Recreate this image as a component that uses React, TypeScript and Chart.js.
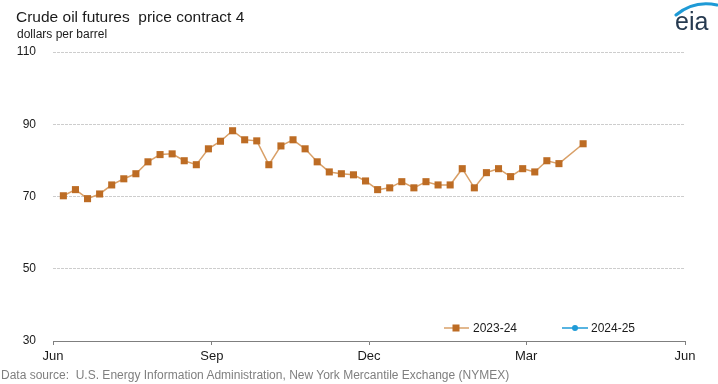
import React, { useEffect, useRef } from "react";
import { Chart, registerables } from "chart.js";

Chart.register(...registerables);

// ---- data ----
const baseDate = "2023-06-01";

const weekDates2324 = [
  "2023-06-07", "2023-06-14", "2023-06-21", "2023-06-28",
  "2023-07-05", "2023-07-12", "2023-07-19", "2023-07-26",
  "2023-08-02", "2023-08-09", "2023-08-16", "2023-08-23", "2023-08-30",
  "2023-09-06", "2023-09-13", "2023-09-20", "2023-09-27",
  "2023-10-04", "2023-10-11", "2023-10-18", "2023-10-25",
  "2023-11-01", "2023-11-08", "2023-11-15", "2023-11-22", "2023-11-29",
  "2023-12-06", "2023-12-13", "2023-12-20", "2023-12-27",
  "2024-01-03", "2024-01-10", "2024-01-17", "2024-01-24", "2024-01-31",
  "2024-02-07", "2024-02-14", "2024-02-21", "2024-02-28",
  "2024-03-06", "2024-03-13", "2024-03-20",
  "2024-04-03",
];

const prices2324 = [
  70.2, 71.9, 69.4, 70.7,
  73.2, 74.9, 76.3, 79.6,
  81.6, 81.8, 79.9, 78.8, 83.2,
  85.3, 88.2, 85.7, 85.4,
  78.8, 84.0, 85.7, 83.2,
  79.6, 76.8, 76.3, 76.0, 74.3,
  71.9, 72.4, 74.1, 72.4,
  74.1, 73.2, 73.2, 77.7, 72.4,
  76.6, 77.7, 75.5, 77.7,
  76.8, 79.9, 79.1,
  84.6,
];

const weekDates2425: string[] = [];
const prices2425: number[] = [];

const seriesLabels = ["2023-24", "2024-25"];

const xTickDates = ["2023-06-01", "2023-09-01", "2023-12-01", "2024-03-01", "2024-06-01"];
const xTickLabels = ["Jun", "Sep", "Dec", "Mar", "Jun"];
const yTickValues = [30, 50, 70, 90, 110];

// ---- helpers ----
function dayOffset(s: string): number {
  const [y, m, d] = s.split("-").map(Number);
  const [by, bm, bd] = baseDate.split("-").map(Number);
  return (Date.UTC(y, m - 1, d) - Date.UTC(by, bm - 1, bd)) / 86400000;
}

const FONT = "'Liberation Sans', Arial, Helvetica, sans-serif";
const COLOR_2324_LINE = "#d9a068";
const COLOR_2324_MARK = "#bd6c24";
const COLOR_2425 = "#1f9bd7";

export default function App() {
  const canvasRef = useRef<HTMLCanvasElement | null>(null);

  useEffect(() => {
    if (!canvasRef.current) return;
    const xTicks = xTickDates.map(dayOffset);
    const chart = new Chart(canvasRef.current, {
      type: "line",
      data: {
        datasets: [
          {
            label: seriesLabels[0],
            data: weekDates2324.map((d, i) => ({ x: dayOffset(d), y: prices2324[i] })),
            borderColor: COLOR_2324_LINE,
            borderWidth: 1.5,
            backgroundColor: COLOR_2324_MARK,
            pointStyle: "rect",
            pointRadius: 5,
            pointBorderWidth: 0,
            pointBackgroundColor: COLOR_2324_MARK,
            pointBorderColor: COLOR_2324_MARK,
            tension: 0,
            fill: false,
          },
          {
            label: seriesLabels[1],
            data: weekDates2425.map((d, i) => ({ x: dayOffset(d), y: prices2425[i] })),
            borderColor: COLOR_2425,
            borderWidth: 1.5,
            backgroundColor: COLOR_2425,
            pointStyle: "circle",
            pointRadius: 3,
            tension: 0,
            fill: false,
          },
        ],
      },
      options: {
        animation: false,
        responsive: false,
        devicePixelRatio: 1,
        layout: { padding: { top: 52, right: 33, left: 0, bottom: 0 } },
        plugins: {
          legend: { display: false },
          tooltip: { enabled: false },
          title: { display: false },
        },
        scales: {
          x: {
            type: "linear",
            min: xTicks[0],
            max: xTicks[xTicks.length - 1],
            afterBuildTicks: (axis: any) => {
              axis.ticks = xTicks.map((v) => ({ value: v }));
            },
            afterFit: (axis: any) => {
              axis.height = 43;
            },
            ticks: {
              autoSkip: false,
              maxRotation: 0,
              padding: 4,
              color: "#1a1a1a",
              font: { family: FONT, size: 13 },
              callback: (value: any) => {
                const idx = xTicks.indexOf(Number(value));
                return idx >= 0 ? xTickLabels[idx] : "";
              },
            },
            grid: {
              display: true,
              drawOnChartArea: false,
              drawTicks: true,
              tickLength: 4,
              color: "#7f7f7f",
            },
            border: { display: true, color: "#7f7f7f", width: 1 },
          },
          y: {
            type: "linear",
            min: yTickValues[0],
            max: yTickValues[yTickValues.length - 1],
            afterBuildTicks: (axis: any) => {
              axis.ticks = yTickValues.map((v) => ({ value: v }));
            },
            afterFit: (axis: any) => {
              axis.width = 53;
            },
            ticks: {
              padding: 17,
              color: "#1a1a1a",
              font: { family: FONT, size: 12 },
            },
            grid: {
              drawTicks: false,
              color: (ctx: any) =>
                ctx.tick && ctx.tick.value === yTickValues[0] ? "rgba(0,0,0,0)" : "#cdcdcd",
            },
            border: { display: false, dash: [3, 1] },
          },
        },
      },
    });
    return () => chart.destroy();
  }, []);

  const textBase: React.CSSProperties = {
    position: "absolute",
    fontFamily: FONT,
    whiteSpace: "nowrap",
    margin: 0,
  };

  return (
    <div
      style={{
        position: "absolute",
        left: 0,
        top: 0,
        width: 718,
        height: 384,
        background: "#ffffff",
        overflow: "hidden",
      }}
    >
      <canvas ref={canvasRef} width={718} height={384} style={{ position: "absolute", left: 0, top: 0 }} />
      <div style={{ ...textBase, left: 16, top: 8.5, fontSize: 15.5, lineHeight: "15.5px", color: "#1a1a1a" }}>
        Crude oil futures&nbsp; price contract 4
      </div>
      <div style={{ ...textBase, left: 17, top: 27.5, fontSize: 12, lineHeight: "12px", color: "#1a1a1a" }}>
        dollars per barrel
      </div>
      <div style={{ ...textBase, left: 1, top: 369, fontSize: 12, lineHeight: "12px", color: "#7f7f7f" }}>
        Data source:&nbsp; U.S. Energy Information Administration, New York Mercantile Exchange (NYMEX)
      </div>
      {/* legend */}
      <svg style={{ position: "absolute", left: 440, top: 320 }} width={160} height={16}>
        <line x1={4} y1={8} x2={29} y2={8} stroke={COLOR_2324_LINE} strokeWidth={1.5} />
        <rect x={12.5} y={4.5} width={7} height={7} fill={COLOR_2324_MARK} />
        <line x1={122} y1={8} x2={148} y2={8} stroke={COLOR_2425} strokeWidth={1.5} />
        <circle cx={135} cy={8} r={3} fill={COLOR_2425} />
      </svg>
      <div style={{ ...textBase, left: 473, top: 322, fontSize: 12, lineHeight: "12px", color: "#1a1a1a" }}>
        {seriesLabels[0]}
      </div>
      <div style={{ ...textBase, left: 591, top: 322, fontSize: 12, lineHeight: "12px", color: "#1a1a1a" }}>
        {seriesLabels[1]}
      </div>
      {/* eia logo */}
      <svg style={{ position: "absolute", left: 668, top: 0 }} width={50} height={40}>
        <path d="M 8 15 Q 26 0 49 5" stroke="#1e9ad6" strokeWidth={3} fill="none" strokeLinecap="round" />
        <text x={7} y={30} fontFamily={FONT} fontSize={25} fill="#263a50">
          eia
        </text>
      </svg>
    </div>
  );
}
